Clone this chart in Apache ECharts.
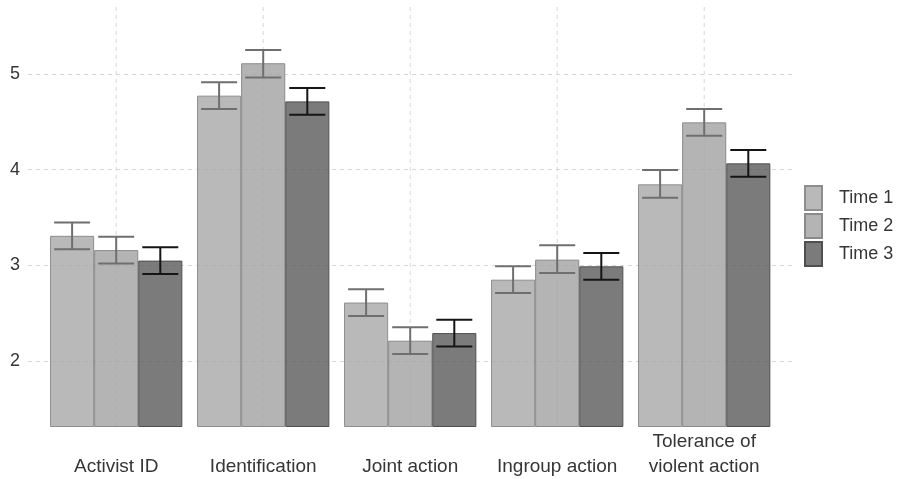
<!DOCTYPE html>
<html><head><meta charset="utf-8">
<script src="https://cdn.jsdelivr.net/npm/echarts@6/dist/echarts.min.js"></script>
<style>html,body{margin:0;padding:0;background:#fff}#c{width:898px;height:479px}</style>
</head><body><div id="c"></div>
<script>
// ---- data ----
const categories = ['Activist ID', 'Identification', 'Joint action', 'Ingroup action', 'Tolerance of\nviolent action'];
const seriesNames = ['Time 1', 'Time 2', 'Time 3'];
const time1 = [3.30, 4.77, 2.60, 2.84, 3.84];
const time2 = [3.15, 5.11, 2.20, 3.05, 4.49];
const time3 = [3.04, 4.71, 2.28, 2.98, 4.06];
const time1Lower = [3.16, 4.63, 2.46, 2.70, 3.70];
const time1Upper = [3.44, 4.91, 2.74, 2.98, 3.99];
const time2Lower = [3.01, 4.96, 2.06, 2.91, 4.35];
const time2Upper = [3.29, 5.25, 2.34, 3.20, 4.63];
const time3Lower = [2.90, 4.57, 2.14, 2.84, 3.92];
const time3Upper = [3.18, 4.85, 2.42, 3.12, 4.20];
const yTicks = [2, 3, 4, 5];
const yMin = 1.3, yMax = 5.7;

// ---- styles ----
const FONT = 'Liberation Sans, Arial, Helvetica, sans-serif';
const TXT = '#363636';
const GRIDC = '#d8d8d8';
const fills = ['rgba(168,168,168,0.8)', 'rgba(161,161,161,0.8)', 'rgba(90,90,90,0.8)'];
const borders = ['#8e8e8e', '#8a8a8a', '#4f4f4f'];
const errColors = ['#6f6f6f', '#6f6f6f', '#151515'];
const values = [time1, time2, time3];
const lowers = [time1Lower, time2Lower, time3Lower];
const uppers = [time1Upper, time2Upper, time3Upper];

const chart = echarts.init(document.getElementById('c'), null, {renderer: 'canvas'});

function errSeries(s) {
  return {
    type: 'custom', xAxisIndex: 1, yAxisIndex: 1, z: 5, silent: true,
    data: lowers[s].map((l, i) => [i, l, uppers[s][i]]),
    encode: {x: 0, y: [1, 2]},
    renderItem: (params, api) => {
      const i = api.value(0);
      const band = api.size([1, 0])[0];
      const top = api.coord([i, api.value(2)]);
      const bot = api.coord([i, api.value(1)]);
      const cx = top[0] + (s - 1) * band * 0.3;
      const hw = band * 0.1225;
      const st = {stroke: errColors[s], lineWidth: 2};
      return {type: 'group', children: [
        {type: 'line', shape: {x1: cx - hw, y1: top[1], x2: cx + hw, y2: top[1]}, style: st},
        {type: 'line', shape: {x1: cx - hw, y1: bot[1], x2: cx + hw, y2: bot[1]}, style: st},
        {type: 'line', shape: {x1: cx, y1: top[1], x2: cx, y2: bot[1]}, style: st}
      ]};
    }
  };
}

const option = {
  animation: false,
  backgroundColor: '#ffffff',
  textStyle: {fontFamily: FONT},
  grid: [
    // background panel grid: y axis from 1 so integer ticks fall on 2..5
    {left: 28, right: 106, top: 7, bottom: 22.33},
    // bar grid
    {left: 42.7, right: 120.3, top: 7, bottom: 51}
  ],
  xAxis: [
    {gridIndex: 0, type: 'value', min: 0, max: 1, show: false},
    {gridIndex: 1, type: 'category', data: categories,
     axisLine: {show: false}, axisTick: {show: false}, splitLine: {show: false},
     axisLabel: {fontSize: 19, color: TXT, fontFamily: FONT, lineHeight: 25,
                 verticalAlign: 'bottom', margin: 52.5, interval: 0}}
  ],
  yAxis: [
    {gridIndex: 0, type: 'value', min: 1, max: yMax, interval: 1,
     axisLine: {show: false}, axisTick: {show: false},
     axisLabel: {fontSize: 18, color: TXT, fontFamily: FONT, margin: 8,
                 showMinLabel: false, showMaxLabel: false,
                 formatter: v => yTicks.includes(v) ? String(v) : ''},
     splitLine: {show: true, showMinLine: false, showMaxLine: false,
                 lineStyle: {color: GRIDC, type: [4, 4], width: 1}}},
    {gridIndex: 1, type: 'value', min: yMin, max: yMax, show: false,
     splitLine: {show: false}}
  ],
  legend: {
    data: seriesNames, orient: 'vertical', left: 804, top: 185, padding: 0,
    itemWidth: 17, itemHeight: 24, itemGap: 2, icon: 'rect',
    textStyle: {fontSize: 18, color: TXT, fontFamily: FONT, padding: [0, 0, 0, 12]}
  },
  series: [
    {
      type: 'custom', xAxisIndex: 1, yAxisIndex: 1, z: 1, silent: true,
      data: categories.map((c, i) => [i]),
      encode: {x: 0},
      renderItem: (params, api) => {
        const i = api.value(0);
        const a = api.coord([i, yMax]);
        const b = api.coord([i, yMin]);
        return {type: 'line', shape: {x1: a[0], y1: a[1], x2: b[0], y2: b[1]},
                style: {stroke: GRIDC, lineWidth: 1, lineDash: [4, 4]}};
      }
    },
    ...seriesNames.map((n, s) => ({
      name: n, type: 'bar', xAxisIndex: 1, yAxisIndex: 1, z: 2,
      barWidth: '30%', barGap: '0%', clip: true,
      data: values[s],
      itemStyle: {color: fills[s], borderColor: borders[s], borderWidth: 1}
    })),
    errSeries(0), errSeries(1), errSeries(2)
  ]
};
chart.setOption(option);
</script>
</body></html>
